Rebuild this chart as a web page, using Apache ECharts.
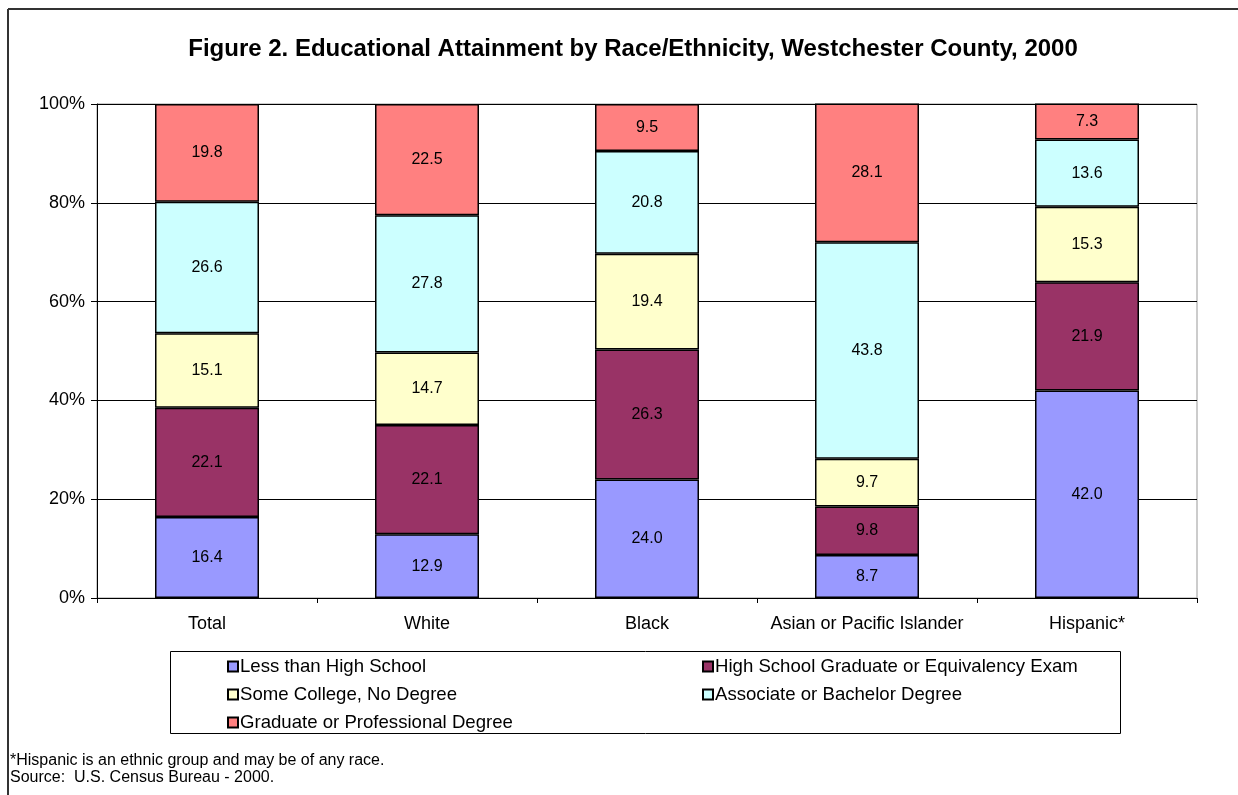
<!DOCTYPE html>
<html><head><meta charset="utf-8">
<script src="https://cdn.jsdelivr.net/npm/echarts@6/dist/echarts.min.js"></script>
<style>html,body{margin:0;padding:0;background:#fff}#c{width:1238px;height:795px}</style>
</head><body><div id="c"></div>
<script>
const categories = ['Total', 'White', 'Black', 'Asian or Pacific Islander', 'Hispanic*'];
const lessThanHS = [16.4, 12.9, 24.0, 8.7, 42.0];
const hsGrad = [22.1, 22.1, 26.3, 9.8, 21.9];
const someCollege = [15.1, 14.7, 19.4, 9.7, 15.3];
const assocBach = [26.6, 27.8, 20.8, 43.8, 13.6];
const gradProf = [19.8, 22.5, 9.5, 28.1, 7.3];
const yTicks = [0, 20, 40, 60, 80, 100];

const seriesDefs = [
  ['Less than High School', lessThanHS, '#9999FF'],
  ['High School Graduate or Equivalency Exam', hsGrad, '#993366'],
  ['Some College, No Degree', someCollege, '#FFFFCC'],
  ['Associate or Bachelor Degree', assocBach, '#CCFFFF'],
  ['Graduate or Professional Degree', gradProf, '#FF8080']
];
const font = 'Liberation Sans, Arial, sans-serif';
const chart = echarts.init(document.getElementById('c'));
const legendCommon = {
  orient: 'vertical', itemWidth: 10, itemHeight: 10, itemGap: 9,
  icon: 'rect', selectedMode: false,
  textStyle: {fontFamily: font, fontSize: 18.6, lineHeight: 18, color: '#000', padding: [0, 0, 0, -3]}
};
chart.setOption({
  animation: false,
  title: {
    text: 'Figure 2. Educational Attainment by Race/Ethnicity, Westchester County, 2000',
    left: 628, top: 32, textAlign: 'center',
    textStyle: {fontFamily: font, fontSize: 24, fontWeight: 'bold', color: '#000'}
  },
  grid: {left: 97, top: 104, right: 41, bottom: 197, show: true, borderColor: '#999', borderWidth: 1},
  xAxis: {
    type: 'category', data: categories, boundaryGap: true,
    axisLine: {lineStyle: {color: '#000', width: 1}},
    axisTick: {show: true, length: 5, lineStyle: {color: '#000'}},
    axisLabel: {interval: 0, fontFamily: font, fontSize: 18, color: '#000', margin: 17}
  },
  yAxis: {
    type: 'value', min: 0, max: 100, interval: 20,
    axisLine: {show: true, lineStyle: {color: '#000'}},
    axisTick: {show: true, length: 6, lineStyle: {color: '#000'}},
    axisLabel: {fontFamily: font, fontSize: 18, color: '#000', margin: 12,
      formatter: v => yTicks.includes(v) ? v + '%' : ''},
    splitLine: {show: true, lineStyle: {color: '#000', width: 1}}
  },
  legend: [
    Object.assign({}, legendCommon, {left: 222, top: 652,
      data: ['Less than High School', 'Some College, No Degree', 'Graduate or Professional Degree']}),
    Object.assign({}, legendCommon, {left: 697, top: 652,
      data: ['High School Graduate or Equivalency Exam', 'Associate or Bachelor Degree']})
  ],
  series: seriesDefs.map(([name, data, color]) => ({
    name, type: 'bar', stack: 'total', data, barWidth: 104,
    itemStyle: {color, borderColor: '#000', borderWidth: 1.5},
    label: {show: true, position: 'inside', fontFamily: font, fontSize: 16, color: '#000',
      formatter: p => p.value.toFixed(1)}
  })),
  graphic: [
    {type: 'line', shape: {x1: 8, y1: 9, x2: 1238, y2: 9}, style: {stroke: '#333', lineWidth: 2}},
    {type: 'line', shape: {x1: 8, y1: 9, x2: 8, y2: 795}, style: {stroke: '#333', lineWidth: 2}},
    {type: 'rect', shape: {x: 170.5, y: 651.5, width: 950, height: 82}, style: {fill: 'none', stroke: '#000', lineWidth: 1}},
    {type: 'text', left: 10, top: 753, style: {text: '*Hispanic is an ethnic group and may be of any race.', fontFamily: font, fontSize: 16, fill: '#000'}},
    {type: 'text', left: 10, top: 770, style: {text: 'Source:  U.S. Census Bureau - 2000.', fontFamily: font, fontSize: 16, fill: '#000'}}
  ]
});
</script></body></html>
